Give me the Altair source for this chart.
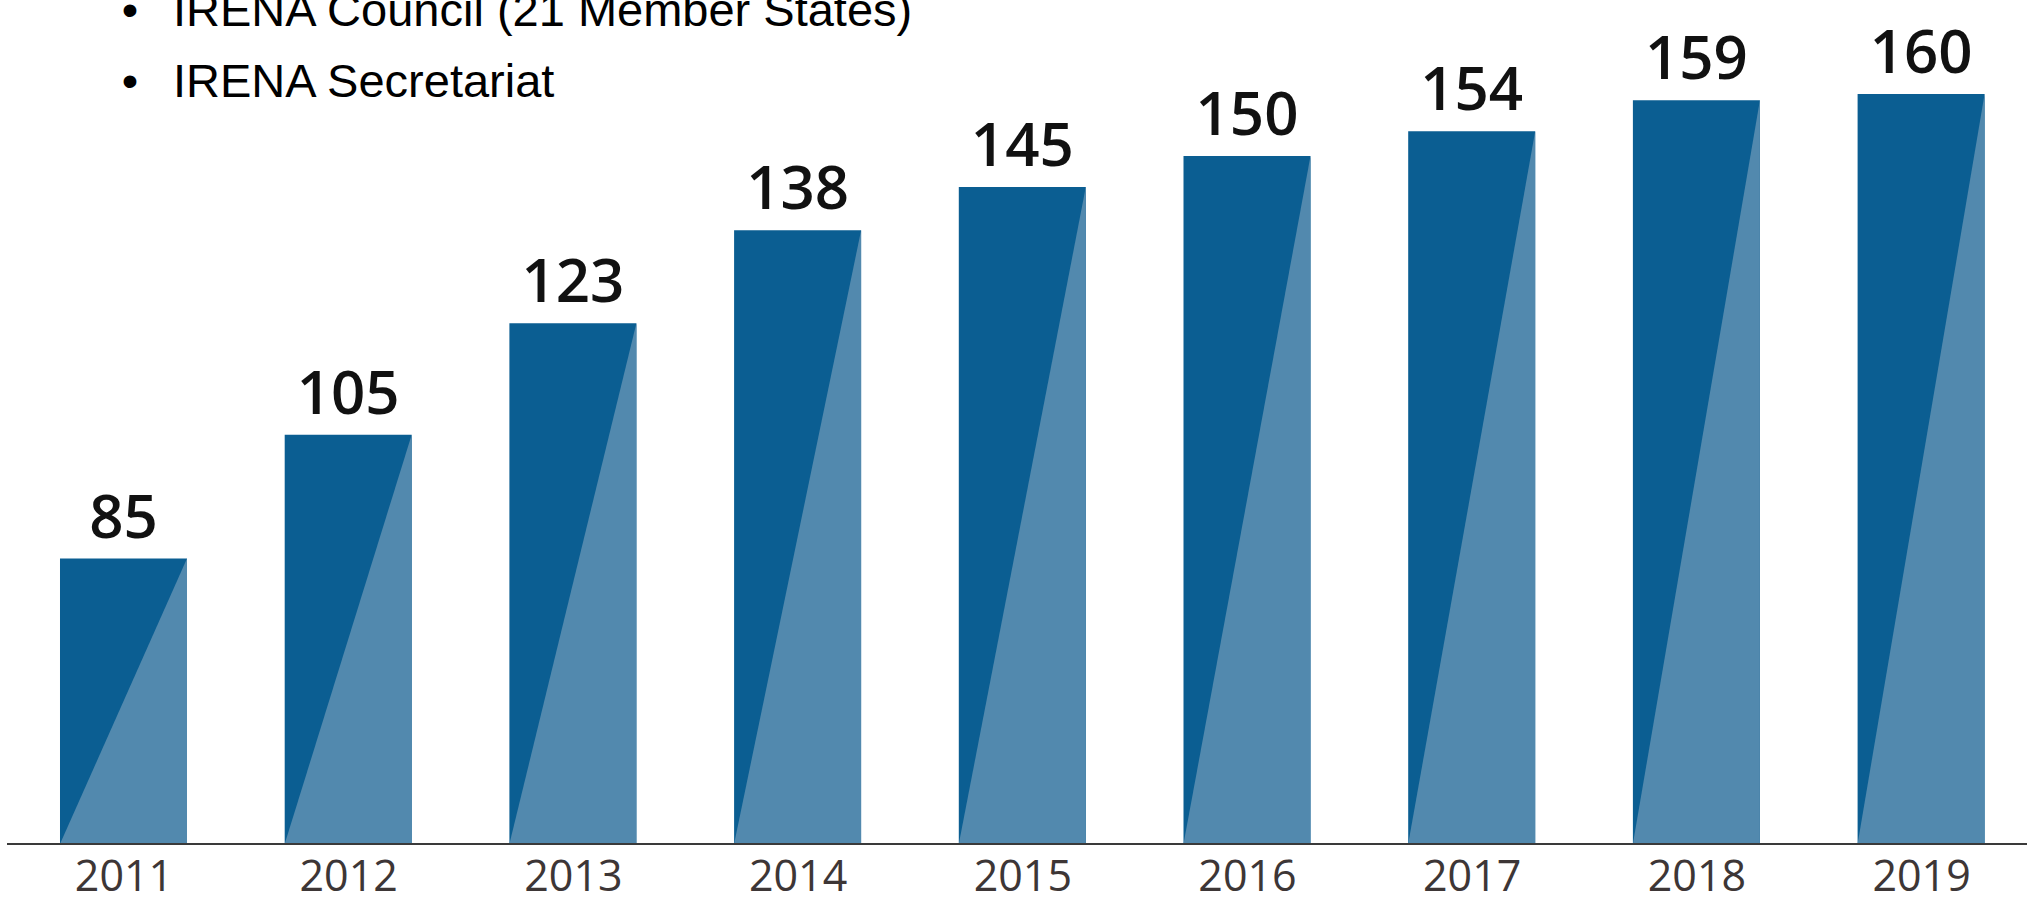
import altair as alt
import pandas as pd

# ---- data ----
years = [2011, 2012, 2013, 2014, 2015, 2016, 2017, 2018, 2019]
members = [85, 105, 123, 138, 145, 150, 154, 159, 160]
bullets = ["IRENA Council (21 Member States)", "IRENA Secretariat"]

DARK = "#0b5e92"
LIGHT = "#5289ae"
BASE = 38.9      # value at the baseline of the (non-zero based) scale
HALF = 0.2826    # half bar width in year units

bars_df = pd.DataFrame({"year": years, "members": members})
tri_rows = []
for yr, m in zip(years, members):
    tri_rows.append({"year": yr, "xpos": yr - HALF, "ypos": BASE})
    tri_rows.append({"year": yr, "xpos": yr + HALF, "ypos": m})
tri_df = pd.DataFrame(tri_rows)

xs = alt.Scale(domain=[2010.4504, 2019.4713], nice=False, zero=False)
ys = alt.Scale(domain=[BASE, 175.2], nice=False, zero=False)

bars = (
    alt.Chart(bars_df)
    .transform_calculate(x0=f"datum.year - {HALF}", x1=f"datum.year + {HALF}")
    .mark_bar(color=DARK)
    .encode(
        x=alt.X(
            "x0:Q",
            scale=xs,
            axis=alt.Axis(
                values=years,
                format="d",
                title=None,
                domain=False,
                ticks=False,
                tickSize=0,
                grid=False,
                labelFont="Open Sans",
                labelFontSize=43,
                labelFontWeight=500,
                labelColor="#3d3636",
                labelBaseline="alphabetic",
                labelPadding=46,
                labelFlush=False,
                labelOverlap=False,
            ),
        ),
        x2="x1:Q",
        y=alt.Y("members:Q", scale=ys, axis=None),
        y2=alt.datum(BASE),
    )
)

tri = (
    alt.Chart(tri_df)
    .mark_area(color=LIGHT, opacity=1)
    .encode(
        x=alt.X("xpos:Q", scale=xs),
        y=alt.Y("ypos:Q", scale=ys),
        y2=alt.datum(BASE),
        detail="year:N",
    )
)

labels = (
    alt.Chart(bars_df)
    .mark_text(
        font="Open Sans",
        fontSize=60,
        fontWeight=600,
        color="#111111",
        align="center",
        baseline="alphabetic",
        dy=-21,
    )
    .encode(x=alt.X("year:Q", scale=xs), y=alt.Y("members:Q", scale=ys), text="members:Q")
)

axis_line = (
    alt.Chart(alt.Data(values=[{}]))
    .mark_rule(color="#3a3a3a", strokeWidth=2)
    .encode(x=alt.value(7), x2=alt.value(2027), y=alt.value(844))
)

def bullet_line(txt, ypix):
    dot = (
        alt.Chart(alt.Data(values=[{}]))
        .mark_text(font="Liberation Sans", fontSize=47, color="#000000", align="center", baseline="alphabetic")
        .encode(x=alt.value(130), y=alt.value(ypix), text=alt.value("•"))
    )
    body = (
        alt.Chart(alt.Data(values=[{}]))
        .mark_text(font="Liberation Sans", fontSize=47, color="#000000", align="left", baseline="alphabetic")
        .encode(x=alt.value(173), y=alt.value(ypix), text=alt.value(txt))
    )
    return dot + body

chart = (
    alt.layer(bars, tri, labels, axis_line, bullet_line(bullets[0], 26), bullet_line(bullets[1], 97))
    .properties(
        width=2027,
        height=844,
        autosize=alt.AutoSizeParams(type="none"),
        padding={"left": 0, "top": 0, "right": 0, "bottom": 61},
        background="#ffffff",
    )
    .configure_view(stroke=None)
)

chart.save("out.html", embed_options={"renderer": "svg", "actions": False})
